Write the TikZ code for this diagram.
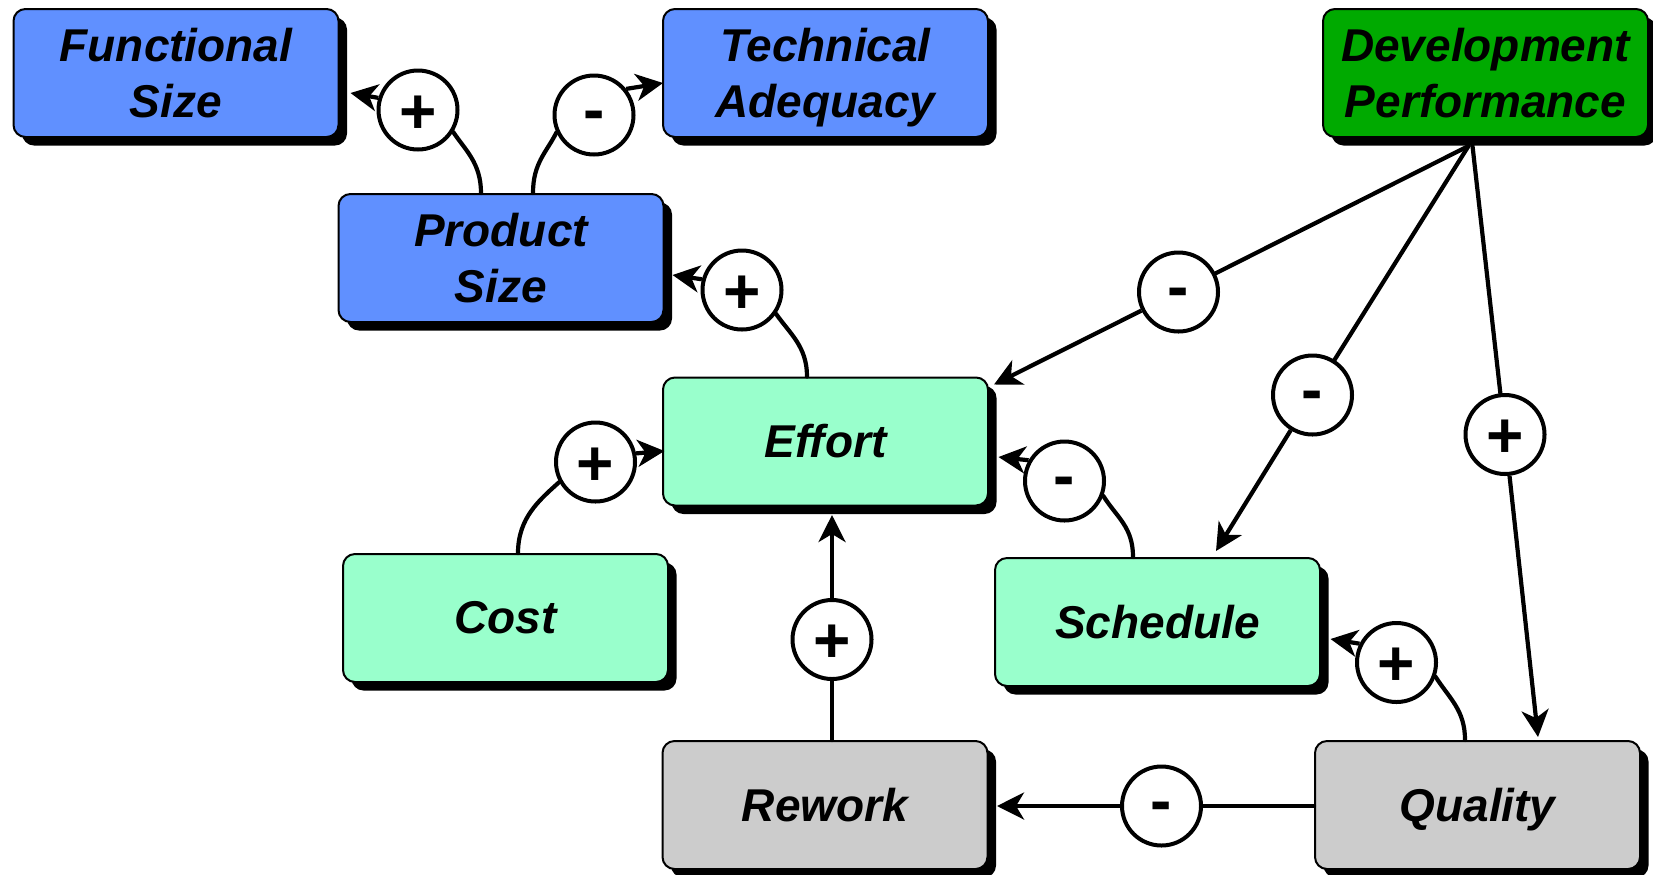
\documentclass[tikz,border=0pt]{standalone}
\usepackage{fontspec}
\setmainfont{Liberation Sans}
\usetikzlibrary{arrows.meta,shadows,calc}
\definecolor{boxblue}{RGB}{96,144,255}
\definecolor{devgreen}{RGB}{0,170,0}
\definecolor{mint}{RGB}{153,255,204}
\definecolor{greybox}{RGB}{204,204,204}
\newcommand{\signplus}{\raisebox{-11.6pt}{+}}
\newcommand{\signminus}{\raisebox{-8.1pt}{-}}
\begin{document}
\begin{tikzpicture}[x=0.5pt,y=-0.5pt,
  box/.style={draw, line width=1pt, rounded corners=6pt, minimum width=162.5pt,
    minimum height=64pt, inner sep=0pt, align=center,
    font=\fontsize{23}{28}\selectfont\bfseries\itshape,
    drop shadow={shadow xshift=4.25pt, shadow yshift=-4.25pt, opacity=1, fill=black}},
  sign/.style={circle, draw, line width=2pt, fill=white, minimum size=39.5pt,
    inner sep=0pt, text height=0pt, text depth=0pt,
    font=\fontsize{32}{32}\selectfont\bfseries},
  link/.style={line width=2.1pt, line cap=round},
  arr/.style={line width=2.1pt, -{Stealth[length=13.5pt,width=13.5pt,inset=4pt]}},
]
\useasboundingbox (0,0) rectangle (1653,874);

% boxes
\node[box, fill=boxblue]  (func)   at (176,73)     {Functional\\Size};
\node[box, fill=boxblue]  (tech)   at (825.5,73)   {Technical\\\raisebox{0pt}[\height][0pt]{Adequacy}};
\node[box, fill=devgreen] (dev)    at (1485.5,73)  {Development\\Performance};
\node[box, fill=boxblue]  (prod)   at (501,258)    {Product\\Size};
\node[box, fill=mint]     (effort) at (825.5,441.5){Effort};
\node[box, fill=mint]     (cost)   at (505.5,618)  {Cost};
\node[box, fill=mint]     (sched)  at (1157.5,622) {Schedule};
\node[box, fill=greybox]  (rework) at (825,805)    {Rework};
\node[box, fill=greybox, text depth=0pt] (qual) at (1477.5,805) {Quality};

% polarity circles
\node[sign] (cFS) at (418,110)     {\signplus};
\node[sign] (cTA) at (594,115)     {\signminus};
\node[sign] (cPS) at (742,290)     {\signplus};
\node[sign] (cCo) at (595.5,462)   {\signplus};
\node[sign] (cSc) at (1064.5,481)  {\signminus};
\node[sign] (cDE) at (1178.5,292)  {\signminus};
\node[sign] (cDS) at (1312.5,395)  {\signminus};
\node[sign] (cDQ) at (1505,434.5)  {\signplus};
\node[sign] (cRw) at (832,639.5)   {\signplus};
\node[sign] (cQS) at (1396.5,662.5){\signplus};
\node[sign] (cQR) at (1161.5,806)  {\signminus};

% curved links from box tops to circles
\draw[link] ([xshift=-10pt]prod.north) .. controls +(0,-30) and +(12,18) .. (cFS.-32);
\draw[link] ([xshift=16pt]prod.north) .. controls +(0,-30) and +(-10,20) .. (cTA.-155);
\draw[link] ([xshift=-9.25pt]effort.north) .. controls +(0,-30) and +(14,20) .. (cPS.-35);
\draw[link] ([xshift=6.25pt]cost.north) .. controls +(0,-35) and +(-20,18) .. (cCo.-151);
\draw[link] ([xshift=-12.25pt]sched.north) .. controls +(0,-30) and +(14,22) .. (cSc.-21);
\draw[link] ([xshift=-6.25pt]qual.north) .. controls +(0,-30) and +(14,22) .. (cQS.-20);

% short arrows from circles to boxes
\draw[arr] (cFS.163) -- ([shift={(11,20)}]func.east);
\draw[arr] (cTA.39)  -- ([shift={(1,10)}]tech.west);
\draw[arr] (cPS.165) -- ([shift={(8,17)}]prod.east);
\draw[arr] (cCo.12)  -- ([shift={(2.5,9.5)}]effort.west);
\draw[arr] (cSc.150) -- ([shift={(9.5,15.5)}]effort.east);
\draw[arr] (cQS.153) -- ([shift={(9.5,17)}]sched.east);

% Development Performance links
\coordinate (dvo) at ([shift={(-17,8)}]dev.south);
\coordinate (dvq) at ([shift={(-13,8)}]dev.south);
\draw[link] (dvo) -- (cDE);
\draw[arr] (cDE) -- ([shift={(5,8)}]effort.north east);
\draw[link] (dvo) -- (cDS);
\draw[arr] (cDS) -- ([shift={(58.5,-6)}]sched.north);
\draw[link] (dvq) -- (cDQ);
\draw[arr] (cDQ) -- ([shift={(60.5,-3)}]qual.north);

% Rework -> Effort
\draw[link] (cRw |- rework.north) -- (cRw);
\draw[arr] (cRw) -- ($(cRw |- effort.south)+(0,8.5)$);

% Quality -> Rework
\draw[link] (qual.west |- cQR) -- (cQR);
\draw[arr] (cQR) -- ($(cQR -| rework.east)+(8.5,0)$);
\end{tikzpicture}
\end{document}
